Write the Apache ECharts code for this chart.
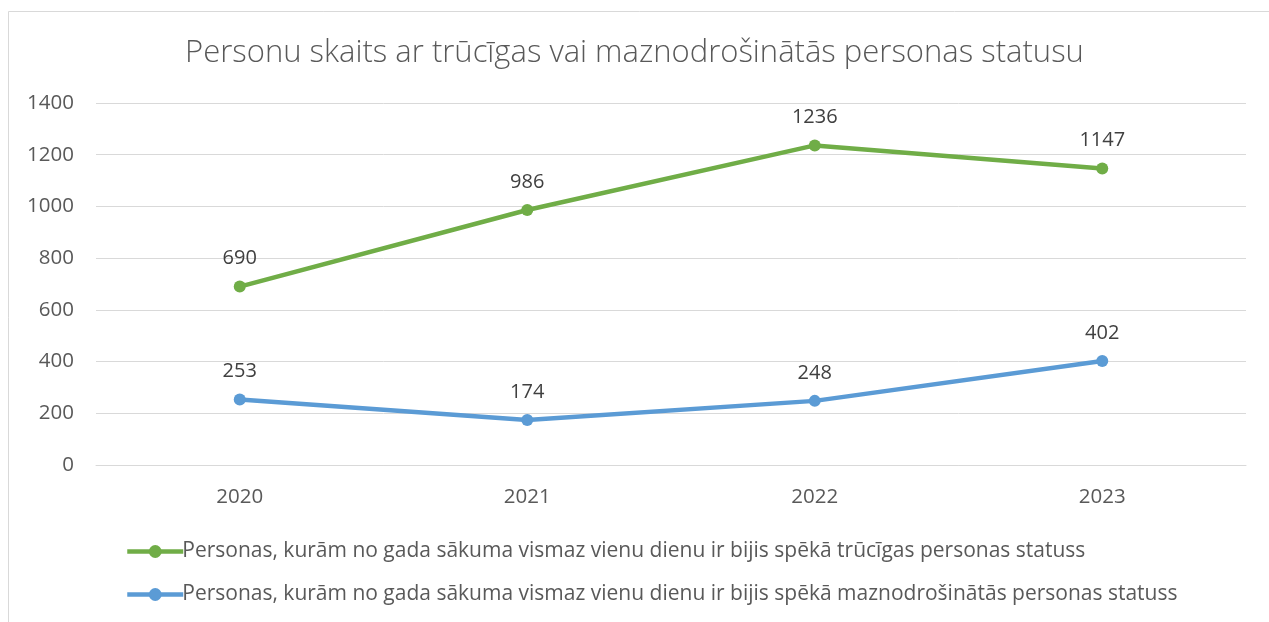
<!DOCTYPE html>
<html><head><meta charset="utf-8">
<script src="https://cdn.jsdelivr.net/npm/echarts@6/dist/echarts.min.js"></script>
<style>html,body{margin:0;padding:0;background:#fff}#c{width:1269px;height:622px}</style>
</head><body><div id="c"></div>
<script>
const categories = ['2020', '2021', '2022', '2023'];
const seriesNames = [
  'Personas, kurām no gada sākuma vismaz vienu dienu ir bijis spēkā trūcīgas personas statuss',
  'Personas, kurām no gada sākuma vismaz vienu dienu ir bijis spēkā maznodrošinātās personas statuss'
];
const trucigas = [690, 986, 1236, 1147];
const maznodrosinatas = [253, 174, 248, 402];
const titleText = 'Personu skaits ar trūcīgas vai maznodrošinātās personas statusu';

const chart = echarts.init(document.getElementById('c'), null, {renderer: 'canvas'});
const font = 'Open Sans';
chart.setOption({
  animation: false,
  backgroundColor: '#fff',
  graphic: [{type: 'rect', shape: {x: 8.5, y: 11.5, width: 1300, height: 700}, style: {fill: 'none', stroke: '#d9d9d9', lineWidth: 1}, silent: true}],
  title: {text: titleText, left: 'center', top: 33, textStyle: {fontFamily: font, fontWeight: 300, fontSize: 31, color: '#595959'}},
  grid: {left: 96, right: 23, top: 103, bottom: 157},
  legend: {
    orient: 'vertical', left: 120, top: 536, itemGap: 22, itemWidth: 56, itemHeight: 16,
    lineStyle: {width: 4.5},
    textStyle: {fontFamily: font, fontSize: 21, color: '#595959', padding: [0, 0, 0, -6]},
    data: seriesNames
  },
  xAxis: {type: 'category', data: categories, boundaryGap: true,
    axisLine: {show: true, lineStyle: {color: '#d9d9d9'}}, axisTick: {show: false},
    axisLabel: {fontFamily: font, fontSize: 20.5, color: '#595959', margin: 22}},
  yAxis: {type: 'value', min: 0, max: 1400, interval: 200,
    axisLine: {show: false}, axisTick: {show: false},
    splitLine: {lineStyle: {color: '#d9d9d9', width: 1}},
    axisLabel: {fontFamily: font, fontSize: 20.5, color: '#595959', margin: 22, formatter: v => String(v)}},
  series: [
    {name: seriesNames[0], type: 'line', data: trucigas, symbol: 'circle', symbolSize: 12,
      lineStyle: {color: '#70AD47', width: 4.5}, itemStyle: {color: '#70AD47'},
      label: {show: true, position: 'top', distance: 12, fontFamily: font, fontSize: 20, color: '#404040'}},
    {name: seriesNames[1], type: 'line', data: maznodrosinatas, symbol: 'circle', symbolSize: 12,
      lineStyle: {color: '#5B9BD5', width: 4.5}, itemStyle: {color: '#5B9BD5'},
      label: {show: true, position: 'top', distance: 12, fontFamily: font, fontSize: 20, color: '#404040'}}
  ]
});
</script></body></html>
